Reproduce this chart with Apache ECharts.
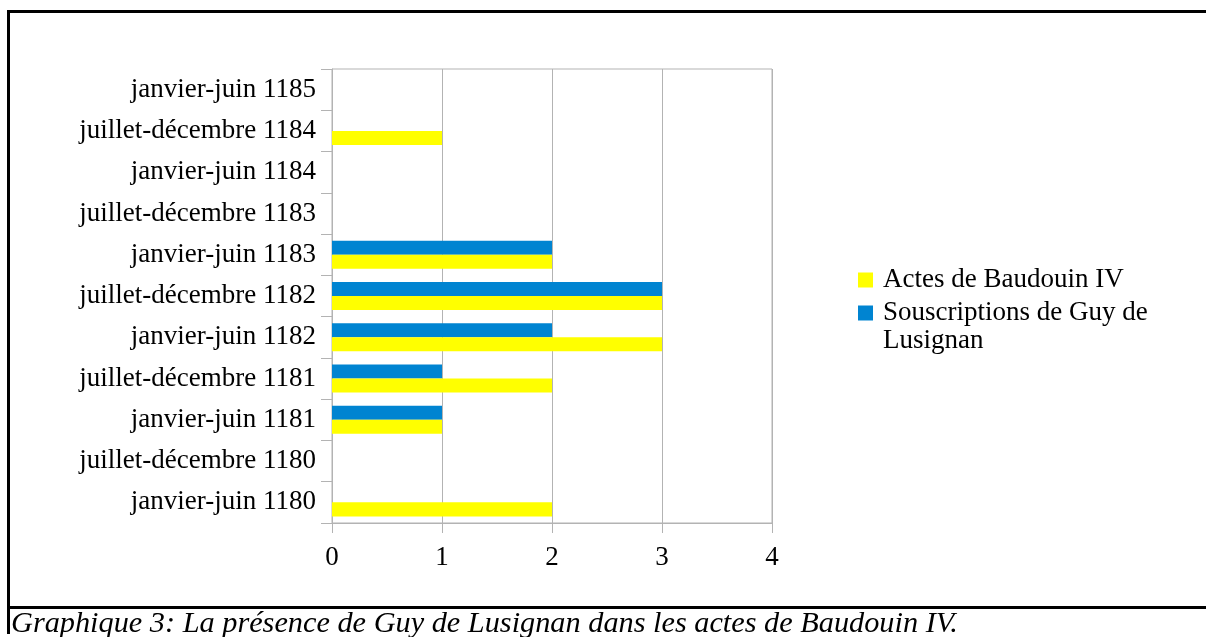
<!DOCTYPE html>
<html>
<head>
<meta charset="utf-8">
<script src="https://cdn.jsdelivr.net/npm/echarts@6/dist/echarts.min.js"></script>
<style>
  html, body { margin: 0; padding: 0; background: #fff; }
  #chart { width: 1206px; height: 637px; }
</style>
</head>
<body>
<div id="chart"></div>
<script>
// Half-year periods, listed from bottom to top of the chart
const periods = [
  'janvier-juin 1180',
  'juillet-décembre 1180',
  'janvier-juin 1181',
  'juillet-décembre 1181',
  'janvier-juin 1182',
  'juillet-décembre 1182',
  'janvier-juin 1183',
  'juillet-décembre 1183',
  'janvier-juin 1184',
  'juillet-décembre 1184',
  'janvier-juin 1185'
];

// Number of acts of Baldwin IV per period
const actesBaudouin = [2, 0, 1, 2, 3, 3, 2, 0, 0, 1, 0];
// Number of subscriptions by Guy de Lusignan per period
const souscriptionsGuy = [0, 0, 1, 1, 2, 3, 2, 0, 0, 0, 0];

const seriesNames = ['Actes de Baudouin IV', 'Souscriptions de Guy de Lusignan'];
const valueTicks = [0, 1, 2, 3, 4];
const caption = 'Graphique 3: La présence de Guy de Lusignan dans les actes de Baudouin IV.';

const FONT = '"Liberation Serif", "Times New Roman", serif';
const GRID_GRAY = '#b3b3b3';
const LABEL_SIZE = 27;

const chart = echarts.init(document.getElementById('chart'), null, { renderer: 'canvas' });

const legendText = {
  color: '#000000',
  fontFamily: FONT,
  fontSize: LABEL_SIZE,
  lineHeight: 28,
  padding: [0, 0, 0, 5]
};

chart.setOption({
  backgroundColor: '#ffffff',
  animation: false,
  textStyle: { fontFamily: FONT },
  grid: {
    left: 332,
    top: 69,
    width: 440,
    height: 454,
    show: true,
    borderColor: GRID_GRAY,
    borderWidth: 1,
    backgroundColor: 'transparent',
    containLabel: false,
    outerBoundsMode: 'none'
  },
  xAxis: {
    type: 'value',
    min: valueTicks[0],
    max: valueTicks[valueTicks.length - 1],
    interval: 1,
    axisLine: { show: true, lineStyle: { color: GRID_GRAY, width: 1 } },
    axisTick: { show: true, inside: false, length: 10, lineStyle: { color: GRID_GRAY, width: 1 } },
    splitLine: { show: true, lineStyle: { color: GRID_GRAY, width: 1 } },
    axisLabel: {
      show: true,
      margin: 21,
      color: '#000000',
      fontFamily: FONT,
      fontSize: LABEL_SIZE,
      hideOverlap: false,
      showMinLabel: true,
      showMaxLabel: true
    }
  },
  yAxis: {
    type: 'category',
    data: periods,
    inverse: false,
    axisLine: { show: true, lineStyle: { color: GRID_GRAY, width: 1 } },
    axisTick: { show: true, inside: false, length: 11, alignWithLabel: false, interval: 0, lineStyle: { color: GRID_GRAY, width: 1 } },
    splitLine: { show: false },
    axisLabel: {
      show: true,
      interval: 0,
      margin: 16,
      color: '#000000',
      fontFamily: FONT,
      fontSize: LABEL_SIZE,
      hideOverlap: false
    }
  },
  legend: [
    {
      show: true,
      orient: 'vertical',
      left: 858,
      top: 266,
      padding: 0,
      itemWidth: 15,
      itemHeight: 15,
      icon: 'rect',
      selectedMode: false,
      textStyle: legendText,
      data: [seriesNames[0]]
    },
    {
      // The blank first line keeps the icon level with "Souscriptions"
      show: true,
      orient: 'vertical',
      left: 858,
      top: 271,
      padding: 0,
      itemWidth: 15,
      itemHeight: 15,
      icon: 'rect',
      selectedMode: false,
      textStyle: legendText,
      formatter: function () {
        return '\nSouscriptions de Guy de\nLusignan';
      },
      data: [seriesNames[1]]
    }
  ],
  series: [
    {
      name: seriesNames[1],
      type: 'bar',
      data: souscriptionsGuy,
      barGap: '0%',
      barCategoryGap: '32%',
      itemStyle: { color: '#0084d1', borderWidth: 0 },
      emphasis: { disabled: true }
    },
    {
      name: seriesNames[0],
      type: 'bar',
      data: actesBaudouin,
      barGap: '0%',
      barCategoryGap: '32%',
      itemStyle: { color: '#ffff00', borderWidth: 0 },
      emphasis: { disabled: true }
    }
  ],
  graphic: [
    // Document frame around the figure
    { type: 'line', silent: true, shape: { x1: 7, y1: 11.5, x2: 1206, y2: 11.5 }, style: { stroke: '#000', lineWidth: 3 } },
    { type: 'line', silent: true, shape: { x1: 7, y1: 607.5, x2: 1206, y2: 607.5 }, style: { stroke: '#000', lineWidth: 3 } },
    { type: 'line', silent: true, shape: { x1: 8.5, y1: 10, x2: 8.5, y2: 634 }, style: { stroke: '#000', lineWidth: 3 } },
    // Caption under the frame
    {
      type: 'text',
      silent: true,
      left: 11,
      top: 609,
      style: {
        text: caption,
        fill: '#000',
        font: 'italic 30.3px "Liberation Serif", "Times New Roman", serif'
      }
    }
  ]
});
</script>
</body>
</html>
